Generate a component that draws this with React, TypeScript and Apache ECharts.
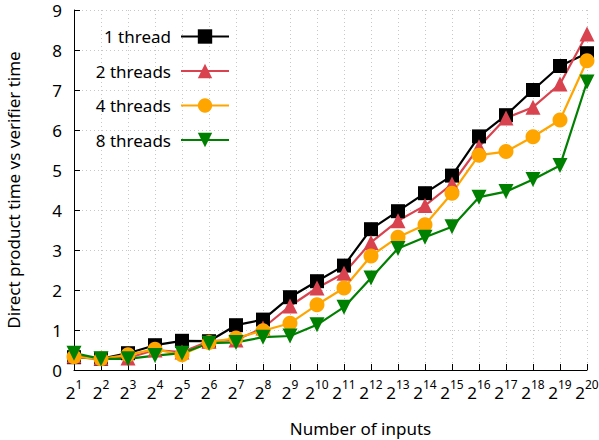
import React, { useEffect, useRef } from "react";
import * as echarts from "echarts";

const exponents = ["1","2","3","4","5","6","7","8","9","10","11","12","13","14","15","16","17","18","19","20"];
const seriesNames = ["1 thread", "2 threads", "4 threads", "8 threads"];
const thread1 = [0.32, 0.28, 0.42, 0.62, 0.73, 0.72, 1.12, 1.26, 1.82, 2.22, 2.61, 3.52, 3.97, 4.42, 4.86, 5.84, 6.37, 7.0, 7.6, 7.92];
const thread2 = [0.35, 0.3, 0.3, 0.5, 0.45, 0.72, 0.75, 1.05, 1.6, 2.05, 2.42, 3.19, 3.73, 4.11, 4.65, 5.58, 6.3, 6.57, 7.15, 8.4];
const thread4 = [0.33, 0.28, 0.38, 0.52, 0.38, 0.69, 0.8, 0.98, 1.17, 1.63, 2.05, 2.85, 3.32, 3.63, 4.42, 5.37, 5.46, 5.83, 6.25, 7.73];
const thread8 = [0.42, 0.28, 0.28, 0.36, 0.42, 0.67, 0.69, 0.82, 0.85, 1.13, 1.57, 2.3, 3.04, 3.32, 3.58, 4.32, 4.46, 4.76, 5.11, 7.2];
const colors = ["#000000", "#d8434f", "#ffa500", "#008000"];
const symbols = ["rect", "triangle", "circle", "triangle"];
const rotations = [0, 0, 0, 180];
const yTicks = { min: 0, max: 9, interval: 1 };

const FONT = "Noto Sans";

export default function App() {
  const ref = useRef<HTMLDivElement>(null);
  useEffect(() => {
    const chart = echarts.init(ref.current!, null, { renderer: "svg" });
    const values = [thread1, thread2, thread4, thread8];
    chart.setOption({
      animation: false,
      textStyle: { fontFamily: FONT },
      grid: { left: 74, right: 12, top: 10, bottom: 70, outerBoundsMode: "none", containLabel: false },
      legend: seriesNames.map((n, i) => ({
        data: [n],
        orient: "vertical",
        right: 369,
        top: 36.5 + 34.5 * i - 9,
        padding: 0,
        itemWidth: 48,
        itemHeight: 18,
        align: "right",
        selectedMode: false,
        textStyle: { fontSize: 17, lineHeight: 18, color: "#000", fontFamily: FONT, padding: [0, 5, 0, 0] },
      })),
      xAxis: {
        type: "category",
        data: exponents,
        boundaryGap: false,
        name: "Number of inputs",
        nameLocation: "middle",
        nameGap: 50,
        nameTextStyle: { fontSize: 17, color: "#000", fontFamily: FONT, padding: [0, 0, 0, 60] },
        axisLine: { lineStyle: { color: "#000", width: 1 } },
        axisTick: { inside: true, length: 6, lineStyle: { color: "#000" }, alignWithLabel: true },
        axisLabel: {
          margin: 8,
          interval: 0,
          color: "#000",
          formatter: (v: string) => `{b|2}{s|${v}}`,
          rich: {
            b: { fontSize: 17, fontFamily: FONT, color: "#000", verticalAlign: "bottom" },
            s: { fontSize: 12, fontFamily: FONT, color: "#000", verticalAlign: "top", padding: [0, 0, 11, 0] },
          },
        },
        splitLine: { show: true, lineStyle: { color: "#c8c8c8", type: [1, 3], width: 1 } },
      },
      yAxis: {
        type: "value",
        min: yTicks.min,
        max: yTicks.max,
        interval: yTicks.interval,
        name: "Direct product time vs verifier time",
        nameLocation: "middle",
        nameGap: 52,
        nameTextStyle: { fontSize: 17, color: "#000", fontFamily: FONT },
        axisLine: { show: true, lineStyle: { color: "#000", width: 1 } },
        axisTick: { show: true, inside: true, length: 6, lineStyle: { color: "#000" } },
        axisLabel: { fontSize: 17, color: "#000", margin: 12, fontFamily: FONT },
        splitLine: { show: true, lineStyle: { color: "#c8c8c8", type: [1, 3], width: 1 } },
      },
      series: seriesNames.map((n, i) => ({
        name: n,
        type: "line",
        data: values[i],
        symbol: symbols[i],
        symbolRotate: rotations[i],
        symbolSize: i === 0 ? 14 : 15,
        showAllSymbol: true,
        lineStyle: { color: colors[i], width: 2.2 },
        itemStyle: { color: colors[i] },
      })),
    });
    return () => chart.dispose();
  }, []);
  return <div ref={ref} style={{ width: 599, height: 440, position: "absolute", left: 0, top: 0 }} />;
}
